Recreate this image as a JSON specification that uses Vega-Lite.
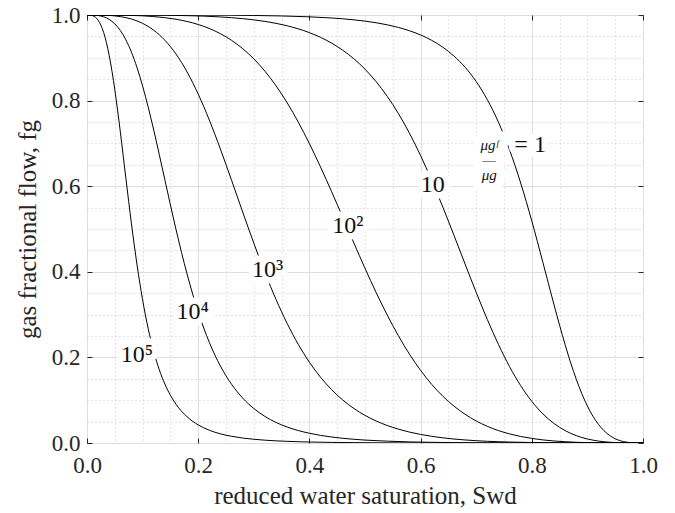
{
  "$schema": "https://vega.github.io/schema/vega-lite/v6.json",
  "width": 556,
  "height": 428,
  "autosize": {"type": "none"},
  "padding": {"left": 87, "top": 15, "right": 32, "bottom": 70},
  "background": "white",
  "config": {
    "view": {"stroke": "#262626", "strokeWidth": 1},
    "axis": {"labelFont": "Liberation Serif", "titleFont": "Liberation Serif", "labelColor": "#262626", "titleColor": "#262626", "tickColor": "#262626", "tickWidth": 1, "domain": false, "titleFontWeight": "normal", "labelFlush": false, "labelOverlap": false}
  },
  "datasets": {
    "curves": [
      {"r":"1e5","s":0,"f":1},{"r":"1e5","s":0.005,"f":0.9998},{"r":"1e5","s":0.01,"f":0.9985},{"r":"1e5","s":0.015,"f":0.9949},{"r":"1e5","s":0.02,"f":0.9878},{"r":"1e5","s":0.025,"f":0.9761},{"r":"1e5","s":0.03,"f":0.9589},{"r":"1e5","s":0.035,"f":0.9353},{"r":"1e5","s":0.04,"f":0.9051},{"r":"1e5","s":0.05,"f":0.8255},{"r":"1e5","s":0.06,"f":0.7262},{"r":"1e5","s":0.07,"f":0.6179},{"r":"1e5","s":0.08,"f":0.5119},{"r":"1e5","s":0.09,"f":0.4162},{"r":"1e5","s":0.10,"f":0.3346},{"r":"1e5","s":0.11,"f":0.2675},{"r":"1e5","s":0.12,"f":0.2138},{"r":"1e5","s":0.13,"f":0.1713},{"r":"1e5","s":0.14,"f":0.1378},{"r":"1e5","s":0.15,"f":0.1115},{"r":"1e5","s":0.16,"f":0.0907},{"r":"1e5","s":0.18,"f":0.0612},{"r":"1e5","s":0.20,"f":0.0423},{"r":"1e5","s":0.22,"f":0.0298},{"r":"1e5","s":0.24,"f":0.0214},{"r":"1e5","s":0.26,"f":0.0157},{"r":"1e5","s":0.28,"f":0.0116},{"r":"1e5","s":0.30,"f":0.0087},{"r":"1e5","s":0.32,"f":0.0066},{"r":"1e5","s":0.34,"f":0.0050},{"r":"1e5","s":0.36,"f":0.0039},{"r":"1e5","s":0.38,"f":0.0030},{"r":"1e5","s":0.40,"f":0.0023},{"r":"1e5","s":0.44,"f":0.0014},{"r":"1e5","s":0.48,"f":0.0009},{"r":"1e5","s":0.52,"f":0.0005},{"r":"1e5","s":0.56,"f":0.0003},{"r":"1e5","s":0.60,"f":0.0002},{"r":"1e5","s":0.70,"f":0.0001},{"r":"1e5","s":0.80,"f":0.0},{"r":"1e5","s":1.0,"f":0.0},
      {"r":"1e4","s":0,"f":1},{"r":"1e4","s":0.01,"f":0.9999},{"r":"1e4","s":0.02,"f":0.9988},{"r":"1e4","s":0.03,"f":0.9957},{"r":"1e4","s":0.04,"f":0.9896},{"r":"1e4","s":0.05,"f":0.9793},{"r":"1e4","s":0.06,"f":0.9637},{"r":"1e4","s":0.07,"f":0.9418},{"r":"1e4","s":0.08,"f":0.9130},{"r":"1e4","s":0.09,"f":0.8770},{"r":"1e4","s":0.10,"f":0.8341},{"r":"1e4","s":0.11,"f":0.7851},{"r":"1e4","s":0.12,"f":0.7312},{"r":"1e4","s":0.13,"f":0.6740},{"r":"1e4","s":0.14,"f":0.6152},{"r":"1e4","s":0.15,"f":0.5565},{"r":"1e4","s":0.16,"f":0.4995},{"r":"1e4","s":0.17,"f":0.4453},{"r":"1e4","s":0.18,"f":0.3947},{"r":"1e4","s":0.19,"f":0.3483},{"r":"1e4","s":0.20,"f":0.3062},{"r":"1e4","s":0.22,"f":0.2351},{"r":"1e4","s":0.24,"f":0.1797},{"r":"1e4","s":0.26,"f":0.1372},{"r":"1e4","s":0.28,"f":0.1050},{"r":"1e4","s":0.30,"f":0.0806},{"r":"1e4","s":0.32,"f":0.0621},{"r":"1e4","s":0.34,"f":0.0480},{"r":"1e4","s":0.36,"f":0.0373},{"r":"1e4","s":0.38,"f":0.0291},{"r":"1e4","s":0.40,"f":0.0228},{"r":"1e4","s":0.42,"f":0.0178},{"r":"1e4","s":0.44,"f":0.0140},{"r":"1e4","s":0.46,"f":0.0110},{"r":"1e4","s":0.48,"f":0.0087},{"r":"1e4","s":0.50,"f":0.0068},{"r":"1e4","s":0.54,"f":0.0043},{"r":"1e4","s":0.58,"f":0.0026},{"r":"1e4","s":0.62,"f":0.0016},{"r":"1e4","s":0.66,"f":0.0009},{"r":"1e4","s":0.70,"f":0.0005},{"r":"1e4","s":0.75,"f":0.0003},{"r":"1e4","s":0.80,"f":0.0001},{"r":"1e4","s":0.90,"f":0.0},{"r":"1e4","s":1.0,"f":0.0},
      {"r":"1e3","s":0,"f":1},{"r":"1e3","s":0.04,"f":0.9990},{"r":"1e3","s":0.06,"f":0.9962},{"r":"1e3","s":0.08,"f":0.9906},{"r":"1e3","s":0.10,"f":0.9805},{"r":"1e3","s":0.12,"f":0.9645},{"r":"1e3","s":0.14,"f":0.9411},{"r":"1e3","s":0.16,"f":0.9089},{"r":"1e3","s":0.18,"f":0.8670},{"r":"1e3","s":0.20,"f":0.8153},{"r":"1e3","s":0.22,"f":0.7545},{"r":"1e3","s":0.24,"f":0.6865},{"r":"1e3","s":0.26,"f":0.6139},{"r":"1e3","s":0.28,"f":0.5397},{"r":"1e3","s":0.30,"f":0.4670},{"r":"1e3","s":0.32,"f":0.3982},{"r":"1e3","s":0.34,"f":0.3353},{"r":"1e3","s":0.36,"f":0.2793},{"r":"1e3","s":0.38,"f":0.2305},{"r":"1e3","s":0.40,"f":0.1888},{"r":"1e3","s":0.42,"f":0.1537},{"r":"1e3","s":0.44,"f":0.1245},{"r":"1e3","s":0.46,"f":0.1004},{"r":"1e3","s":0.48,"f":0.0806},{"r":"1e3","s":0.50,"f":0.0645},{"r":"1e3","s":0.52,"f":0.0515},{"r":"1e3","s":0.54,"f":0.0409},{"r":"1e3","s":0.56,"f":0.0324},{"r":"1e3","s":0.58,"f":0.0255},{"r":"1e3","s":0.60,"f":0.0200},{"r":"1e3","s":0.62,"f":0.0156},{"r":"1e3","s":0.64,"f":0.0121},{"r":"1e3","s":0.66,"f":0.0093},{"r":"1e3","s":0.68,"f":0.0071},{"r":"1e3","s":0.70,"f":0.0054},{"r":"1e3","s":0.72,"f":0.0040},{"r":"1e3","s":0.74,"f":0.0030},{"r":"1e3","s":0.76,"f":0.0022},{"r":"1e3","s":0.80,"f":0.0011},{"r":"1e3","s":0.84,"f":0.0005},{"r":"1e3","s":0.88,"f":0.0002},{"r":"1e3","s":0.92,"f":0.0001},{"r":"1e3","s":1.0,"f":0.0},
      {"r":"1e2","s":0,"f":1},{"r":"1e2","s":0.08,"f":0.9990},{"r":"1e2","s":0.12,"f":0.9963},{"r":"1e2","s":0.16,"f":0.9901},{"r":"1e2","s":0.20,"f":0.9778},{"r":"1e2","s":0.22,"f":0.9685},{"r":"1e2","s":0.24,"f":0.9563},{"r":"1e2","s":0.26,"f":0.9408},{"r":"1e2","s":0.28,"f":0.9214},{"r":"1e2","s":0.30,"f":0.8976},{"r":"1e2","s":0.32,"f":0.8687},{"r":"1e2","s":0.34,"f":0.8346},{"r":"1e2","s":0.36,"f":0.7949},{"r":"1e2","s":0.38,"f":0.7497},{"r":"1e2","s":0.40,"f":0.6995},{"r":"1e2","s":0.42,"f":0.6449},{"r":"1e2","s":0.44,"f":0.5871},{"r":"1e2","s":0.46,"f":0.5273},{"r":"1e2","s":0.48,"f":0.4672},{"r":"1e2","s":0.50,"f":0.4082},{"r":"1e2","s":0.52,"f":0.3517},{"r":"1e2","s":0.54,"f":0.2989},{"r":"1e2","s":0.56,"f":0.2507},{"r":"1e2","s":0.58,"f":0.2075},{"r":"1e2","s":0.60,"f":0.1697},{"r":"1e2","s":0.62,"f":0.1370},{"r":"1e2","s":0.64,"f":0.1093},{"r":"1e2","s":0.66,"f":0.0862},{"r":"1e2","s":0.68,"f":0.0671},{"r":"1e2","s":0.70,"f":0.0515},{"r":"1e2","s":0.72,"f":0.0390},{"r":"1e2","s":0.74,"f":0.0290},{"r":"1e2","s":0.76,"f":0.0213},{"r":"1e2","s":0.78,"f":0.0152},{"r":"1e2","s":0.80,"f":0.0107},{"r":"1e2","s":0.82,"f":0.0072},{"r":"1e2","s":0.84,"f":0.0047},{"r":"1e2","s":0.86,"f":0.0030},{"r":"1e2","s":0.88,"f":0.0017},{"r":"1e2","s":0.90,"f":0.0009},{"r":"1e2","s":0.94,"f":0.0002},{"r":"1e2","s":1.0,"f":0.0},
      {"r":"1e1","s":0,"f":1},{"r":"1e1","s":0.10,"f":0.9998},{"r":"1e1","s":0.18,"f":0.9985},{"r":"1e1","s":0.24,"f":0.9955},{"r":"1e1","s":0.28,"f":0.9915},{"r":"1e1","s":0.32,"f":0.9851},{"r":"1e1","s":0.36,"f":0.9748},{"r":"1e1","s":0.40,"f":0.9588},{"r":"1e1","s":0.42,"f":0.9478},{"r":"1e1","s":0.44,"f":0.9343},{"r":"1e1","s":0.46,"f":0.9177},{"r":"1e1","s":0.48,"f":0.8976},{"r":"1e1","s":0.50,"f":0.8734},{"r":"1e1","s":0.52,"f":0.8443},{"r":"1e1","s":0.54,"f":0.8100},{"r":"1e1","s":0.56,"f":0.7699},{"r":"1e1","s":0.58,"f":0.7237},{"r":"1e1","s":0.60,"f":0.6714},{"r":"1e1","s":0.62,"f":0.6136},{"r":"1e1","s":0.64,"f":0.5511},{"r":"1e1","s":0.66,"f":0.4853},{"r":"1e1","s":0.68,"f":0.4182},{"r":"1e1","s":0.70,"f":0.3519},{"r":"1e1","s":0.72,"f":0.2886},{"r":"1e1","s":0.74,"f":0.2303},{"r":"1e1","s":0.76,"f":0.1784},{"r":"1e1","s":0.78,"f":0.1340},{"r":"1e1","s":0.80,"f":0.0973},{"r":"1e1","s":0.82,"f":0.0680},{"r":"1e1","s":0.84,"f":0.0455},{"r":"1e1","s":0.86,"f":0.0289},{"r":"1e1","s":0.88,"f":0.0172},{"r":"1e1","s":0.90,"f":0.0094},{"r":"1e1","s":0.92,"f":0.0045},{"r":"1e1","s":0.94,"f":0.0018},{"r":"1e1","s":0.96,"f":0.0005},{"r":"1e1","s":0.98,"f":0.0001},{"r":"1e1","s":1.0,"f":0.0},
      {"r":"1e0","s":0,"f":1},{"r":"1e0","s":0.20,"f":0.9998},{"r":"1e0","s":0.30,"f":0.9989},{"r":"1e0","s":0.40,"f":0.9957},{"r":"1e0","s":0.44,"f":0.9930},{"r":"1e0","s":0.48,"f":0.9887},{"r":"1e0","s":0.52,"f":0.9819},{"r":"1e0","s":0.56,"f":0.9710},{"r":"1e0","s":0.58,"f":0.9632},{"r":"1e0","s":0.60,"f":0.9534},{"r":"1e0","s":0.62,"f":0.9408},{"r":"1e0","s":0.64,"f":0.9247},{"r":"1e0","s":0.66,"f":0.9041},{"r":"1e0","s":0.68,"f":0.8779},{"r":"1e0","s":0.70,"f":0.8445},{"r":"1e0","s":0.72,"f":0.8022},{"r":"1e0","s":0.74,"f":0.7495},{"r":"1e0","s":0.76,"f":0.6847},{"r":"1e0","s":0.78,"f":0.6075},{"r":"1e0","s":0.80,"f":0.5187},{"r":"1e0","s":0.82,"f":0.4218},{"r":"1e0","s":0.84,"f":0.3228},{"r":"1e0","s":0.86,"f":0.2293},{"r":"1e0","s":0.87,"f":0.1871},{"r":"1e0","s":0.88,"f":0.1489},{"r":"1e0","s":0.89,"f":0.1152},{"r":"1e0","s":0.90,"f":0.0864},{"r":"1e0","s":0.91,"f":0.0625},{"r":"1e0","s":0.92,"f":0.0434},{"r":"1e0","s":0.93,"f":0.0286},{"r":"1e0","s":0.94,"f":0.0176},{"r":"1e0","s":0.95,"f":0.0100},{"r":"1e0","s":0.96,"f":0.0050},{"r":"1e0","s":0.97,"f":0.0020},{"r":"1e0","s":0.98,"f":0.0006},{"r":"1e0","s":0.99,"f":0.0001},{"r":"1e0","s":1.0,"f":0.0}
    ],
    "labels": [
      {"t":"10⁵","x":0.090,"y":0.206},
      {"t":"10⁴","x":0.190,"y":0.305},
      {"t":"10³","x":0.325,"y":0.405},
      {"t":"10²","x":0.469,"y":0.507},
      {"t":"10","x":0.622,"y":0.603},
      {"t":"= 1","x":0.797,"y":0.696}
    ],
    "frac": [
      {"t":"μgᶠ\n—\nμg","x":0.7235,"y":0.696}
    ]
  },
  "layer": [
    {
      "data": {"name": "curves"},
      "mark": {"type": "line", "color": "#000000", "strokeWidth": 1, "interpolate": "monotone", "clip": true},
      "encoding": {
        "x": {"field": "s", "type": "quantitative", "scale": {"domain": [0, 1], "nice": false, "zero": false},
          "axis": {"orient": "bottom", "values": [0, 0.2, 0.4, 0.6, 0.8, 1], "format": ".1f", "labelFontSize": 23, "labelPadding": 11, "ticks": false, "tickSize": 0, "grid": true, "gridColor": "#dedede", "gridWidth": 1, "title": "reduced water saturation, Swd", "titleFontSize": 25, "titlePadding": 6}},
        "y": {"field": "f", "type": "quantitative", "scale": {"domain": [0, 1], "nice": false, "zero": false},
          "axis": {"orient": "left", "values": [0, 0.2, 0.4, 0.6, 0.8, 1], "format": ".1f", "labelFontSize": 23, "labelPadding": 7, "ticks": false, "tickSize": 0, "grid": true, "gridColor": "#dedede", "gridWidth": 1, "title": "gas fractional flow, fg", "titleFontSize": 25, "titlePadding": 11}},
        "detail": {"field": "r", "type": "nominal"}
      }
    },
    {
      "data": {"name": "labels"},
      "mark": {"type": "text", "font": "Liberation Serif", "fontSize": 24, "fill": "white", "stroke": "white", "strokeWidth": 13, "strokeJoin": "round", "align": "center", "baseline": "middle"},
      "encoding": {
        "x": {"field": "x", "type": "quantitative",
          "axis": {"orient": "bottom", "values": [0.05, 0.1, 0.15, 0.25, 0.3, 0.35, 0.45, 0.5, 0.55, 0.65, 0.7, 0.75, 0.85, 0.9, 0.95], "grid": true, "gridColor": "#c4c4c4", "gridDash": [1, 3], "gridWidth": 1, "labels": false, "ticks": false, "domain": false, "title": null}},
        "y": {"field": "y", "type": "quantitative",
          "axis": {"orient": "left", "values": [0.05, 0.1, 0.15, 0.25, 0.3, 0.35, 0.45, 0.5, 0.55, 0.65, 0.7, 0.75, 0.85, 0.9, 0.95], "grid": true, "gridColor": "#c4c4c4", "gridDash": [1, 3], "gridWidth": 1, "labels": false, "ticks": false, "domain": false, "title": null}},
        "text": {"field": "t", "type": "nominal"}
      }
    },
    {
      "data": {"name": "frac"},
      "mark": {"type": "text", "font": "Liberation Serif", "fontSize": 15, "fontStyle": "italic", "lineBreak": "\n", "lineHeight": 15, "fill": "white", "stroke": "white", "strokeWidth": 18, "strokeJoin": "round", "align": "center", "baseline": "middle"},
      "encoding": {
        "x": {"field": "x", "type": "quantitative",
          "axis": {"orient": "bottom", "offset": -5, "values": [0, 0.2, 0.4, 0.6, 0.8, 1], "ticks": true, "tickSize": 5, "labels": false, "grid": false, "domain": false, "title": null}},
        "y": {"field": "y", "type": "quantitative",
          "axis": {"orient": "left", "offset": -5, "values": [0, 0.2, 0.4, 0.6, 0.8, 1], "ticks": true, "tickSize": 5, "labels": false, "grid": false, "domain": false, "title": null}},
        "text": {"field": "t", "type": "nominal"}
      }
    },
    {
      "data": {"name": "labels"},
      "mark": {"type": "text", "font": "Liberation Serif", "fontSize": 24, "fill": "#111111", "align": "center", "baseline": "middle"},
      "encoding": {
        "x": {"field": "x", "type": "quantitative",
          "axis": {"orient": "top", "offset": -5, "values": [0, 0.2, 0.4, 0.6, 0.8, 1], "ticks": true, "tickSize": 5, "labels": false, "grid": false, "domain": false, "title": null}},
        "y": {"field": "y", "type": "quantitative",
          "axis": {"orient": "right", "offset": -5, "values": [0, 0.2, 0.4, 0.6, 0.8, 1], "ticks": true, "tickSize": 5, "labels": false, "grid": false, "domain": false, "title": null}},
        "text": {"field": "t", "type": "nominal"}
      }
    },
    {
      "data": {"name": "frac"},
      "mark": {"type": "text", "font": "Liberation Serif", "fontSize": 15, "fontStyle": "italic", "lineBreak": "\n", "lineHeight": 15, "fill": "#111111", "align": "center", "baseline": "middle"},
      "encoding": {
        "x": {"field": "x", "type": "quantitative", "axis": null},
        "y": {"field": "y", "type": "quantitative", "axis": null},
        "text": {"field": "t", "type": "nominal"}
      }
    }
  ],
  "resolve": {"axis": {"x": "independent", "y": "independent"}}
}
